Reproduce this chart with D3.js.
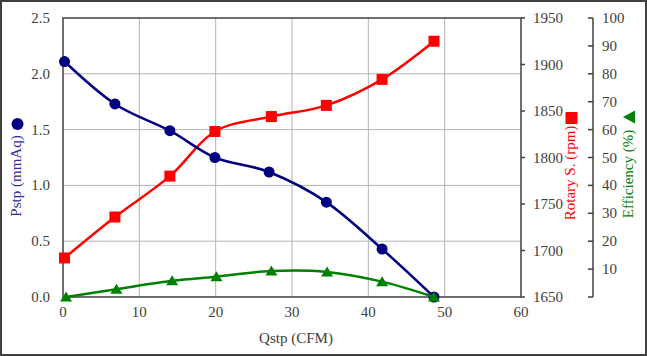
<!DOCTYPE html>
<html><head><meta charset="utf-8">
<script src="https://cdn.jsdelivr.net/npm/d3@7"></script>
<style>body{margin:0;background:#fff;} text{font-family:"Liberation Serif","Times New Roman",serif;}</style>
</head><body><svg id="c" width="647" height="356"></svg>
<script>
const xTicks = [0,10,20,30,40,50,60];
const pTicks = [0,0.5,1.0,1.5,2.0,2.5];
const rTicks = [1650,1700,1750,1800,1850,1900,1950];
const eTicks = [0,10,20,30,40,50,60,70,80,90,100];

const pstpX = [0.2,6.8,14.0,19.9,27.0,34.5,41.8,48.6];
const pstp  = [2.11,1.73,1.49,1.25,1.12,0.85,0.43,0.0];
const rpmX  = [0.2,6.8,14.0,19.9,27.3,34.5,41.8,48.6];
const rpm   = [1692,1736,1780,1828,1844,1856,1884,1925];
const effX  = [0.4,7.0,14.3,20.1,27.3,34.6,41.8,48.6];
const eff   = [0,2.8,5.8,7.3,9.3,9.0,5.5,0];

const svg = d3.select("#c");
const L=63, R=521, T=18, B=297;
const x = d3.scaleLinear().domain([0,60]).range([L,R]);
const yP = d3.scaleLinear().domain([0,2.5]).range([B,T]);
const yR = d3.scaleLinear().domain([1650,1950]).range([B,T]);
const yE = d3.scaleLinear().domain([0,100]).range([B,T]);
const tc = "#404040";

svg.append("rect").attr("x",1).attr("y",1).attr("width",645).attr("height",354)
  .attr("fill","#fff").attr("stroke","#404040").attr("stroke-width",2);

// grid
const g = svg.append("g");
g.selectAll(".vg").data(xTicks.slice(1,-1)).join("line")
  .attr("x1",d=>x(d)).attr("x2",d=>x(d)).attr("y1",T).attr("y2",B)
  .attr("stroke","#b4b4b4").attr("stroke-width",1);
g.selectAll(".hg").data(pTicks.slice(1,-1)).join("line")
  .attr("x1",L).attr("x2",R).attr("y1",d=>yP(d)).attr("y2",d=>yP(d))
  .attr("stroke","#b4b4b4").attr("stroke-width",1);

svg.append("rect").attr("x",L).attr("y",T).attr("width",R-L).attr("height",B-T)
  .attr("fill","none").attr("stroke","#404040").attr("stroke-width",1.5);

// left ticks
svg.selectAll(".lt").data(pTicks).join("text")
  .attr("x",50).attr("y",d=>yP(d)+5).attr("text-anchor","end")
  .attr("font-size",15).attr("fill",tc).text(d=>d3.format(".1f")(d));
// x ticks
svg.selectAll(".xt").data(xTicks).join("text")
  .attr("x",d=>x(d)).attr("y",317).attr("text-anchor","middle")
  .attr("font-size",15).attr("fill",tc).text(d=>d);
// rpm axis
svg.selectAll(".rtm").data(rTicks).join("line")
  .attr("x1",R).attr("x2",R+4).attr("y1",d=>yR(d)).attr("y2",d=>yR(d))
  .attr("stroke","#404040").attr("stroke-width",1.5);
svg.selectAll(".rt").data(rTicks).join("text")
  .attr("x",533).attr("y",d=>yR(d)+5).attr("text-anchor","start")
  .attr("font-size",15).attr("fill",tc).text(d=>d);
// eff axis
const EX = 593;
svg.append("line").attr("x1",EX).attr("x2",EX).attr("y1",T).attr("y2",B)
  .attr("stroke","#404040").attr("stroke-width",1.5);
svg.selectAll(".etm").data(eTicks).join("line")
  .attr("x1",EX-5).attr("x2",EX).attr("y1",d=>yE(d)).attr("y2",d=>yE(d))
  .attr("stroke","#404040").attr("stroke-width",1.5);
svg.selectAll(".et").data(eTicks.filter(d=>d>0)).join("text")
  .attr("x",602).attr("y",d=>yE(d)+5).attr("text-anchor","start")
  .attr("font-size",15).attr("fill",tc).text(d=>d);

// titles
svg.append("text").attr("x",296).attr("y",343).attr("text-anchor","middle")
  .attr("font-size",15).attr("fill",tc).text("Qstp (CFM)");
svg.append("text").attr("transform","translate(21,176) rotate(-90)").attr("text-anchor","middle")
  .attr("font-size",15).attr("fill","#2e2e96").text("Pstp (mmAq)");
svg.append("circle").attr("cx",17.5).attr("cy",124).attr("r",6).attr("fill","#000080");
svg.append("text").attr("transform","translate(575,173) rotate(-90)").attr("text-anchor","middle")
  .attr("font-size",15).attr("fill","#ff0000").text("Rotary S. (rpm)");
svg.append("rect").attr("x",565.5).attr("y",112).attr("width",12).attr("height",12).attr("fill","#ff0000");
svg.append("text").attr("transform","translate(633,174) rotate(-90)").attr("text-anchor","middle")
  .attr("font-size",15).attr("fill","#008000").text("Efficiency (%)");
svg.append("path").attr("d","M623,117 L635,110.5 L635,123.5 Z").attr("fill","#008000");

// series
const curve = d3.curveCatmullRom.alpha(0);
function series(xs, ys, ys_scale, color, marker){
  const pts = xs.map((d,i)=>[x(d), ys_scale(ys[i])]);
  svg.append("path").attr("d", d3.line().curve(curve)(pts))
    .attr("fill","none").attr("stroke",color).attr("stroke-width",2.5);
  const m = svg.append("g");
  pts.forEach(p=>{
    if(marker==="circle") m.append("circle").attr("cx",p[0]).attr("cy",p[1]).attr("r",5.5).attr("fill",color);
    else if(marker==="square") m.append("rect").attr("x",p[0]-5.5).attr("y",p[1]-5.5).attr("width",11).attr("height",11).attr("fill",color);
    else m.append("path").attr("d",`M${p[0]},${p[1]-5.5} L${p[0]+6},${p[1]+4.5} L${p[0]-6},${p[1]+4.5} Z`).attr("fill",color);
  });
}
series(rpmX, rpm, yR, "#ff0000", "square");
series(pstpX, pstp, yP, "#000080", "circle");
series(effX, eff, yE, "#008000", "triangle");
</script></body></html>
